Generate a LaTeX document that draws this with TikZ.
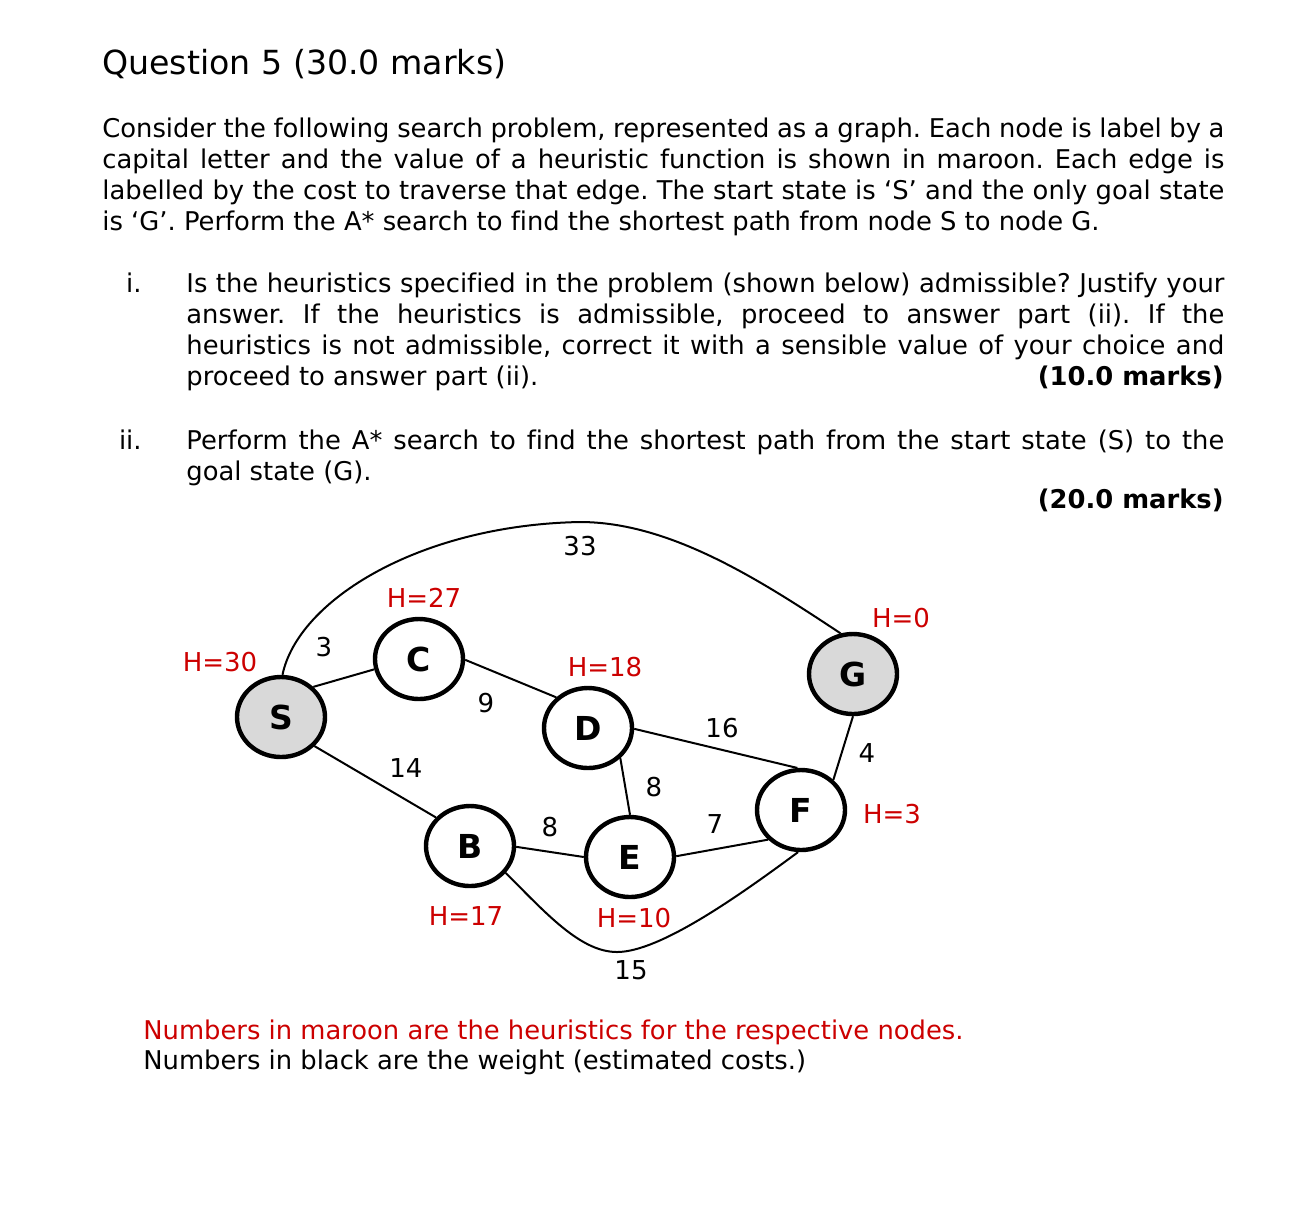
\documentclass[tikz,border=0pt]{standalone}
\usepackage{fontspec}
\setmainfont{DejaVu Sans}[Ligatures={TeX,NoCommon}]
\usetikzlibrary{shapes.geometric}
\definecolor{maroonred}{RGB}{204,0,0}
\definecolor{nodegray}{RGB}{217,217,217}
\frenchspacing
\begin{document}
\frenchspacing
\begin{tikzpicture}[x=0.5pt,y=-0.5pt,
  gnode/.style={ellipse,draw,line width=2.2pt,minimum width=44pt,minimum height=40pt,inner sep=0pt,font=\fontsize{16.5}{18}\selectfont\bfseries},
  goalnode/.style={gnode,fill=nodegray},
  edge/.style={line width=1pt},
  hlabel/.style={text=maroonred,font=\fontsize{13}{15}\selectfont,inner sep=0pt},
  wlabel/.style={font=\fontsize{13}{15}\selectfont,inner sep=0pt},
  titletext/.style={font=\fontsize{16.6}{20}\selectfont,anchor=base west,inner sep=0pt},
  bodytext/.style={font=\fontsize{12.9}{15.5}\selectfont\frenchspacing,anchor=base west,inner sep=0pt},
  marktext/.style={font=\fontsize{12.9}{15.5}\selectfont\bfseries,anchor=base east,inner sep=0pt},
  numtext/.style={font=\fontsize{12.9}{15.5}\selectfont,anchor=base east,inner sep=0pt},
  notetext/.style={font=\fontsize{12.9}{15.5}\selectfont\frenchspacing,anchor=base west,inner sep=0pt}
]
\fill[white] (0,0) rectangle (1290,1223);
\useasboundingbox (0,0) rectangle (1290,1223);

% Title and paragraph
\node[titletext] (title) at (102,74) {Question 5 (30.0 marks)};
\node[bodytext] (p1) at (102,137) {\makebox[561pt][s]{Consider the following search problem, represented as a graph. Each node is label by a}};
\node[bodytext] (p2) at (102,168) {\makebox[561pt][s]{capital letter and the value of a heuristic function is shown in maroon. Each edge is}};
\node[bodytext] (p3) at (102,199) {\makebox[561pt][s]{labelled by the cost to traverse that edge. The start state is ‘S’ and the only goal state}};
\node[bodytext] (p4) at (102,230) {is ‘G’. Perform the A* search to find the shortest path from node S to node G.};

% Item i
\node[numtext] (ni) at (142,292) {i.};
\node[bodytext] (i1) at (186,292) {\makebox[519pt][s]{Is the heuristics specified in the problem (shown below) admissible? Justify your}};
\node[bodytext] (i2) at (186,323) {\makebox[519pt][s]{answer. If the heuristics is admissible, proceed to answer part (ii). If the}};
\node[bodytext] (i3) at (186,354) {\makebox[519pt][s]{heuristics is not admissible, correct it with a sensible value of your choice and}};
\node[bodytext] (i4) at (186,385) {proceed to answer part (ii).};
\node[marktext] (m1) at (1224,385) {(10.0 marks)};

% Item ii
\node[numtext] (nii) at (142,449) {ii.};
\node[bodytext] (ii1) at (186,449) {\makebox[519pt][s]{Perform the A* search to find the shortest path from the start state (S) to the}};
\node[bodytext] (ii2) at (186,480) {goal state (G).};
\node[marktext] (m2) at (1224,508) {(20.0 marks)};

% Graph nodes
\node[goalnode] (S) at (281,717) {S};
\node[gnode] (C) at (419,659) {C};
\node[gnode] (D) at (588,728) {D};
\node[goalnode] (G) at (853,674) {G};
\node[gnode] (F) at (801,810) {F};
\node[gnode] (E) at (630,857) {E};
\node[gnode] (B) at (470,846) {B};

\coordinate (topc) at (580,522);
\coordinate (botc) at (617,952);

% Edges
\draw[edge] (S.43) -- (C.193);
\draw[edge] (C.-1) -- (D.136);
\draw[edge] (S.-41) -- (B.140);
\draw[edge] (D.-1) -- (F.95);
\draw[edge] (D.-43) -- (E.north);
\draw[edge] (G.south) -- (F.43);
\draw[edge] (B.-1) -- (E.180);
\draw[edge] (E.1) -- (F.222);
\draw[edge] (S.88) .. controls (298,600) and (420,525) .. (topc)
                   .. controls (670,522) and (760,580) .. (G.107);
\draw[edge] (B.-37) .. controls (545,912) and (580,952) .. (botc)
                    .. controls (660,952) and (740,895) .. (F.-94);

% Heuristic labels
\node[hlabel] (hS) at (220,662) {H=30};
\node[hlabel] (hC) at (424,598) {H=27};
\node[hlabel] (hD) at (605,667) {H=18};
\node[hlabel] (hG) at (901,618) {H=0};
\node[hlabel] (hF) at (892,814) {H=3};
\node[hlabel] (hB) at (466,916) {H=17};
\node[hlabel] (hE) at (634,918) {H=10};

% Weight labels
\node[wlabel] (wSG) at (580,546) {33};
\node[wlabel] (wSC) at (324,647) {3};
\node[wlabel] (wCD) at (486,703) {9};
\node[wlabel] (wSB) at (406,768) {14};
\node[wlabel] (wDF) at (722,728) {16};
\node[wlabel] (wGF) at (867,753) {4};
\node[wlabel] (wDE) at (654,787) {8};
\node[wlabel] (wBE) at (550,827) {8};
\node[wlabel] (wEF) at (715,824) {7};
\node[wlabel] (wBF) at (631,970) {15};

% Notes
\node[notetext,text=maroonred] (n1) at (143,1039) {Numbers in maroon are the heuristics for the respective nodes.};
\node[notetext] (n2) at (143,1069) {Numbers in black are the weight (estimated costs.)};
\end{tikzpicture}
\end{document}
